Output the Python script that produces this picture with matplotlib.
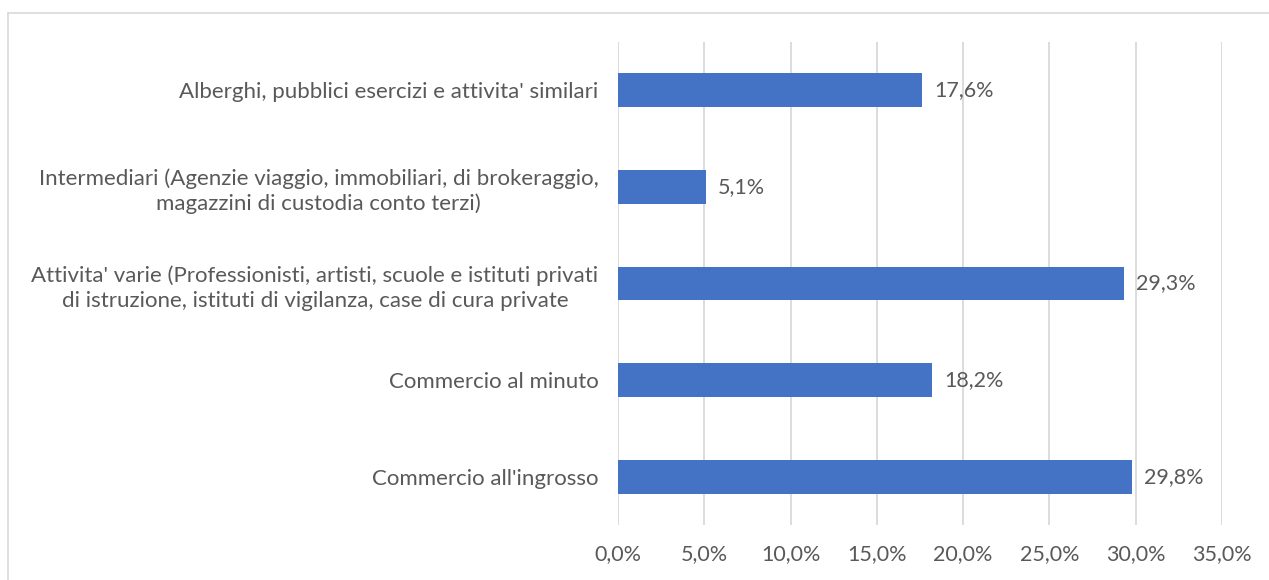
import matplotlib.pyplot as plt
from matplotlib.lines import Line2D
from matplotlib.ticker import FuncFormatter

categories = [
    "Commercio all'ingrosso",
    "Commercio al minuto",
    "Attivita' varie (Professionisti, artisti, scuole e istituti privati\ndi istruzione, istituti di vigilanza, case di cura private",
    "Intermediari (Agenzie viaggio, immobiliari, di brokeraggio,\nmagazzini di custodia conto terzi)",
    "Alberghi, pubblici esercizi e attivita' similari",
]
values = [29.8, 18.2, 29.3, 5.1, 17.6]
xticks = [0, 5, 10, 15, 20, 25, 30, 35]


def draw():
    plt.rcParams["font.family"] = ["Lato", "DejaVu Sans"]
    text_color = "#595959"
    fig = plt.figure(figsize=(12.69, 5.80), dpi=100)
    ax = fig.add_axes([618 / 1269, 1 - 525 / 580, 604 / 1269, 483 / 580])

    ypos = list(range(len(categories)))
    ax.barh(ypos, values, height=0.35, color="#4472C4", zorder=3)
    for y, v in zip(ypos, values):
        ax.text(v + 0.7, y, f"{v:.1f}%".replace(".", ","), va="center", ha="left",
                fontsize=15.5, color=text_color)

    ax.set_xlim(0, 35)
    ax.set_ylim(-0.5, 4.5)
    ax.set_xticks(xticks)
    ax.xaxis.set_major_formatter(FuncFormatter(lambda x, _: f"{x:.1f}%".replace(".", ",")))
    ax.set_yticks(ypos)
    ax.set_yticklabels(categories, multialignment="center", linespacing=1.3)
    ax.tick_params(axis="y", length=0, pad=14, labelsize=16, labelcolor=text_color)
    ax.tick_params(axis="x", length=0, pad=14, labelsize=15.5, labelcolor=text_color)
    ax.grid(axis="x", color="#D9D9D9", linewidth=1.3, zorder=0)
    for s in ax.spines.values():
        s.set_visible(False)

    fig.add_artist(Line2D([8 / 1269, 8 / 1269], [0, 1 - 13 / 580], color="#D9D9D9", lw=1.2))
    fig.add_artist(Line2D([8 / 1269, 1], [1 - 13 / 580, 1 - 13 / 580], color="#D9D9D9", lw=1.2))

    fig.savefig("out.png", dpi=100)


def main():
    draw()


if __name__ == "__main__":
    main()
